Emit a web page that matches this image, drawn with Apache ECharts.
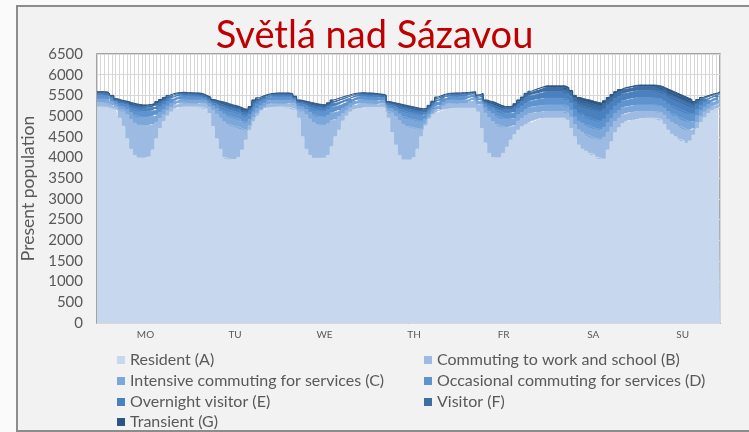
<!DOCTYPE html>
<html>
<head>
<meta charset="utf-8">
<title>Světlá nad Sázavou</title>
<script src="https://cdn.jsdelivr.net/npm/echarts@6/dist/echarts.min.js"></script>
<style>
  html, body { margin: 0; padding: 0; width: 749px; height: 432px; overflow: hidden; background: #fafafa; }
  #frame { position: absolute; left: 16px; top: 5px; width: 760px; height: 423px; border: 2px solid #8c8c8c; background: #f2f2f2; }
  #main { position: absolute; left: 0; top: 0; width: 749px; height: 432px; }
</style>
</head>
<body>
<div id="frame"></div>
<div id="main"></div>
<script>
// hourly values, 7 days x 24 hours
const days = ['MO', 'TU', 'WE', 'TH', 'FR', 'SA', 'SU'];

// Resident (A)
const resident = [
  5220,5220,5215,5210,5180,5150,4950,4750,4450,4200,4050,3990,3980,3990,4020,4180,4450,4700,4870,5000,5100,5170,5210,5220,
  5220,5220,5220,5220,5210,5180,5060,4750,4450,4200,4000,3960,3950,3950,4000,4180,4420,4660,4860,5000,5130,5170,5200,5210,
  5220,5220,5220,5210,5190,5150,4950,4500,4200,4050,3980,3980,3980,3990,4050,4260,4500,4660,4880,5000,5100,5150,5180,5190,
  5210,5210,5210,5210,5210,5200,4950,4600,4300,4050,3940,3940,3940,4000,4200,4500,4760,4930,5030,5080,5120,5150,5170,5180,
  5190,5190,5190,5190,5190,5190,5100,4700,4350,4100,4000,3980,4000,4100,4250,4420,4550,4660,4740,4790,4840,4880,4910,4940,
  4950,4950,4950,4950,4950,4950,4900,4700,4500,4300,4200,4150,4100,4060,4000,3960,3960,4180,4380,4600,4720,4820,4870,4900,
  4900,4920,4940,4950,4950,4950,4940,4900,4800,4660,4560,4500,4440,4400,4340,4400,4540,4700,4850,4960,5060,5130,5180,5220
];

// whole present population (top edge of the stack)
const total = [
  5590,5590,5590,5580,5500,5420,5390,5370,5350,5320,5300,5280,5270,5270,5280,5300,5350,5400,5450,5500,5540,5560,5570,5575,
  5565,5565,5560,5560,5540,5500,5460,5400,5370,5350,5330,5300,5270,5250,5220,5180,5160,5230,5390,5440,5480,5510,5540,5550,
  5560,5560,5560,5560,5540,5480,5390,5370,5350,5330,5310,5290,5280,5270,5320,5390,5420,5450,5480,5500,5530,5550,5560,5565,
  5560,5560,5550,5540,5530,5510,5350,5330,5310,5290,5270,5250,5230,5210,5190,5180,5180,5260,5360,5460,5500,5530,5550,5555,
  5560,5560,5565,5570,5580,5590,5510,5550,5390,5360,5340,5300,5260,5230,5230,5240,5300,5390,5460,5550,5600,5640,5670,5700,
  5730,5730,5730,5730,5730,5730,5690,5620,5500,5450,5420,5400,5380,5350,5330,5310,5370,5450,5520,5590,5640,5680,5700,5720,
  5740,5750,5750,5750,5750,5750,5740,5720,5680,5640,5600,5560,5520,5480,5440,5400,5350,5400,5450,5480,5510,5540,5560,5590
];

// Intensive commuting for services (C)
const intensive = [
  90,90,90,90,80,70,80,100,130,160,190,200,200,200,200,190,180,150,130,110,100,90,90,90,
  90,90,90,90,80,70,80,100,130,160,190,200,200,200,200,190,180,150,130,110,100,90,90,90,
  90,90,90,90,80,70,80,100,130,160,190,200,200,200,200,190,180,150,130,110,100,90,90,90,
  90,90,90,90,80,70,80,100,130,160,190,200,200,200,200,190,120,90,90,100,100,90,90,90,
  90,90,90,90,80,70,80,100,130,160,190,200,200,200,200,190,180,150,150,150,150,150,155,160,
  160,160,160,160,160,160,160,170,190,210,220,230,240,240,240,240,240,230,210,190,180,170,165,160,
  160,160,160,160,160,160,160,160,170,190,200,210,210,210,210,200,180,160,140,120,110,100,95,90
];

// Occasional commuting for services (D)
const occasional = [
  80,80,80,80,70,60,70,70,90,110,130,140,140,140,140,140,140,130,120,110,100,90,80,80,
  80,80,80,80,70,60,70,70,90,110,130,140,140,140,140,140,140,130,120,110,100,90,80,80,
  80,80,80,80,70,60,70,70,90,110,130,140,140,140,140,140,140,130,120,110,100,90,80,80,
  80,80,80,80,70,60,70,70,90,110,130,140,140,140,140,140,100,80,80,90,100,90,80,80,
  80,80,80,80,70,60,70,70,90,110,130,140,140,140,140,140,150,150,150,150,150,150,155,160,
  160,160,160,160,160,160,160,170,180,190,200,200,200,200,200,200,200,200,190,180,170,170,165,165,
  170,170,170,170,170,170,170,170,170,180,190,190,200,200,200,190,170,150,130,110,100,90,85,80
];

// Overnight visitor (E)
const overnight = [
  50,50,50,50,40,30,40,40,50,60,70,80,80,80,80,80,80,80,80,70,60,60,50,50,
  50,50,50,50,40,30,40,40,50,60,70,80,80,80,80,80,80,80,80,70,60,60,50,50,
  50,50,50,50,40,30,40,40,50,60,70,80,80,80,80,80,80,80,80,70,60,60,50,50,
  50,50,50,50,40,30,40,40,50,60,70,80,80,80,80,80,70,60,60,60,60,60,50,50,
  50,50,50,50,40,30,40,40,50,60,70,80,80,80,80,80,100,110,120,130,130,140,140,150,
  160,160,160,160,160,160,160,170,180,200,210,220,230,240,240,240,240,230,210,190,180,170,170,170,
  170,170,170,170,170,170,170,170,180,190,200,200,200,200,200,190,160,130,100,80,70,60,55,50
];

// Visitor (F)
const visitor = [
  30,30,30,30,25,20,30,30,30,40,50,50,50,50,50,50,60,60,50,50,40,30,20,25,
  30,30,30,30,25,20,30,30,30,40,50,50,50,50,50,50,60,60,50,50,40,30,20,25,
  30,30,30,30,25,20,30,30,30,40,50,50,50,50,50,50,60,60,50,50,40,30,20,25,
  30,30,30,30,25,20,30,30,30,40,50,50,50,50,50,50,50,40,40,40,40,30,20,25,
  30,30,30,30,25,20,30,30,30,40,50,50,50,50,50,50,60,70,70,80,80,90,90,100,
  100,100,100,100,100,100,100,100,110,120,120,130,130,130,130,130,130,120,120,110,110,100,100,100,
  100,100,100,100,100,100,100,100,100,110,110,110,110,110,110,110,100,80,60,50,40,35,30,30
];

// Transient (G)
const transient = [
  20,20,20,20,15,20,20,20,20,30,30,30,30,30,30,40,40,40,40,30,30,20,20,10,
  20,20,20,20,15,20,20,20,20,30,30,30,30,30,30,40,40,40,40,30,30,20,20,10,
  20,20,20,20,15,20,20,20,20,30,30,30,30,30,30,40,40,40,40,30,30,20,20,10,
  20,20,20,20,15,20,20,20,20,30,30,30,30,30,30,40,30,30,20,30,30,20,20,10,
  20,20,20,20,15,20,20,20,20,30,30,30,30,30,30,40,40,30,30,30,30,35,40,40,
  40,40,40,40,40,40,40,40,50,60,60,70,70,70,70,70,70,60,60,50,50,40,40,40,
  40,40,40,40,40,40,40,40,40,50,50,50,50,50,50,50,40,30,30,20,20,20,15,15
];

// Commuting to work and school (B) is what is left between the resident and the top edge
const commuting = total.map((t, i) =>
  t - resident[i] - intensive[i] - occasional[i] - overnight[i] - visitor[i] - transient[i]);

const hours = [];
days.forEach(d => { for (let h = 0; h < 24; h++) hours.push(d + ' ' + h); });

const groups = [
  { name: 'Resident (A)', data: resident, color: '#c7d8ee' },
  { name: 'Commuting to work and school (B)', data: commuting, color: '#9dbbe2' },
  { name: 'Intensive commuting for services (C)', data: intensive, color: '#7ca7da' },
  { name: 'Occasional commuting for services (D)', data: occasional, color: '#5d93cf' },
  { name: 'Overnight visitor (E)', data: overnight, color: '#4a80bd' },
  { name: 'Visitor (F)', data: visitor, color: '#3d6ea3' },
  { name: 'Transient (G)', data: transient, color: '#2e5582' }
];

const font = 'Lato, "Open Sans", sans-serif';
const myChart = echarts.init(document.getElementById('main'));

// two legend columns, one legend box per entry so the rows line up
const legendCols = [117, 424];
const legendRows = [352, 373, 394, 414];
const legends = groups.map((g, i) => ({
  left: legendCols[i % 2],
  top: legendRows[Math.floor(i / 2)],
  padding: 0,
  itemWidth: 8,
  itemHeight: 8,
  icon: 'rect',
  data: [g.name],
  textStyle: { color: '#595959', fontSize: 16, fontFamily: font }
}));

const option = {
  animation: false,
  title: {
    text: 'Světlá nad Sázavou',
    left: 'center',
    top: 12,
    textStyle: { color: '#c00000', fontSize: 38, fontWeight: 'normal', fontFamily: font }
  },
  legend: legends,
  grid: {
    left: 97, top: 54, right: 29, bottom: 109,
    show: true,
    backgroundColor: '#ffffff',
    borderColor: '#888888',
    borderWidth: 1.5
  },
  xAxis: {
    type: 'category',
    data: hours,
    boundaryGap: false,
    axisLine: { show: false },
    axisTick: { show: false },
    axisLabel: {
      color: '#595959',
      fontSize: 10,
      fontFamily: font,
      margin: 7,
      interval: (i) => i % 24 === 13,
      formatter: (v) => v.split(' ')[0]
    },
    splitLine: { show: true, interval: 0, lineStyle: { color: '#d6d6d6', width: 1 } }
  },
  yAxis: {
    type: 'value',
    min: 0,
    max: 6500,
    interval: 500,
    name: 'Present population',
    nameLocation: 'middle',
    nameGap: 50,
    nameTextStyle: { color: '#595959', fontSize: 17.5, fontFamily: font },
    axisLine: { show: false },
    axisTick: { show: false },
    axisLabel: { color: '#595959', fontSize: 15, fontFamily: font, margin: 14, formatter: (v) => String(v) },
    splitLine: { show: true, lineStyle: { color: '#d9d9d9', width: 1 } }
  },
  series: groups.map(g => ({
    name: g.name,
    type: 'line',
    stack: 'pop',
    step: 'middle',
    symbol: 'none',
    data: g.data,
    lineStyle: { width: 1, color: g.color },
    itemStyle: { color: g.color },
    areaStyle: { color: g.color, opacity: 1 }
  }))
};

myChart.setOption(option);
</script>
</body>
</html>
